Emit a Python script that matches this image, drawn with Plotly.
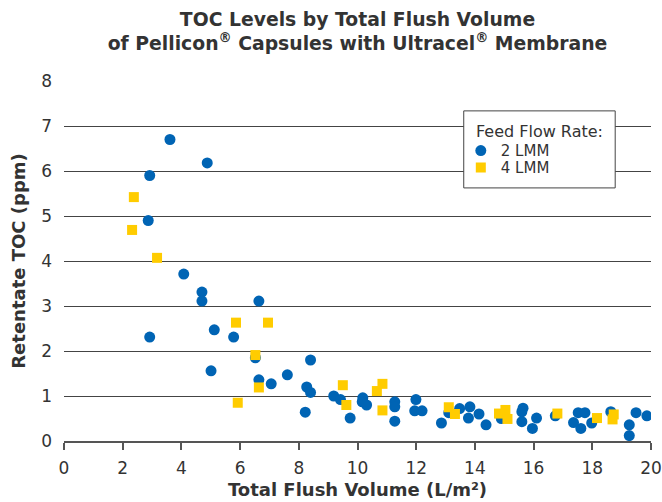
import plotly.graph_objects as go

# 2 LMM series
x_2lmm = [3.61, 4.88, 2.92, 2.87, 4.08, 4.70, 4.70, 6.64, 5.12, 2.92, 5.78, 6.52, 5.01, 6.64, 7.06,
          7.61, 8.40, 8.27, 8.40, 8.22, 9.19, 9.42, 9.75, 10.18, 10.16, 10.31, 11.27, 11.27, 11.27,
          11.99, 11.95, 12.20, 12.86, 13.11, 13.48, 13.83, 13.78, 14.14, 14.38, 14.90, 15.64, 15.60,
          15.60, 15.96, 16.10, 16.74, 17.52, 17.75, 17.36, 17.61, 17.98, 18.63, 19.26, 19.26, 19.49, 19.86]
y_2lmm = [6.70, 6.18, 5.90, 4.90, 3.71, 3.31, 3.11, 3.11, 2.47, 2.31, 2.31, 1.85, 1.56, 1.36, 1.27,
          1.47, 1.80, 1.20, 1.08, 0.64, 1.00, 0.92, 0.51, 0.96, 0.87, 0.80, 0.87, 0.76, 0.44,
          0.92, 0.67, 0.67, 0.40, 0.63, 0.72, 0.76, 0.51, 0.60, 0.36, 0.50, 0.73, 0.65,
          0.43, 0.28, 0.51, 0.56, 0.63, 0.63, 0.41, 0.28, 0.40, 0.65, 0.36, 0.12, 0.63, 0.56]

# 4 LMM series
x_4lmm = [2.38, 2.32, 3.17, 5.86, 6.95, 6.52, 6.64, 5.92, 9.50, 9.62, 10.66, 10.85, 10.85,
          13.11, 13.32, 14.82, 15.04, 15.11, 16.81, 18.16, 18.73, 18.69]
y_4lmm = [5.42, 4.69, 4.07, 2.63, 2.63, 1.91, 1.19, 0.85, 1.24, 0.80, 1.11, 1.27, 0.68,
          0.75, 0.60, 0.61, 0.69, 0.49, 0.61, 0.51, 0.59, 0.48]

x_ticks = [0, 2, 4, 6, 8, 10, 12, 14, 16, 18, 20]
y_ticks = [0, 1, 2, 3, 4, 5, 6, 7, 8]
legend_title = "Feed Flow Rate:"

FONT = "Verdana, DejaVu Sans, sans-serif"

fig = go.Figure()
fig.add_trace(go.Scatter(x=x_2lmm, y=y_2lmm, mode="markers", name="2 LMM", legend="legend",
                         marker=dict(symbol="circle", size=11, color="#0064B4")))
fig.add_trace(go.Scatter(x=x_4lmm, y=y_4lmm, mode="markers", name="4 LMM", legend="legend2",
                         marker=dict(symbol="square", size=10, color="#FFCC00")))

# legend frame (box drawn behind the legend entries)
fig.add_shape(type="rect", xref="paper", yref="paper", x0=0.681, x1=0.939, y0=0.703, y1=0.917,
              line=dict(color="#444444", width=1), fillcolor="white", layer="above")
fig.add_annotation(text=legend_title, xref="paper", yref="paper", x=0.698, y=0.861,
                   xanchor="left", yanchor="middle", showarrow=False,
                   font=dict(family=FONT, size=16, color="#333333"))

leg_common = dict(xanchor="left", yanchor="middle", bgcolor="rgba(0,0,0,0)", borderwidth=0,
                  font=dict(family=FONT, size=15, color="#333333"))

fig.update_layout(
    width=662, height=502,
    margin=dict(l=64, r=11, t=81, b=61),
    paper_bgcolor="white", plot_bgcolor="white",
    font=dict(family=FONT, color="#333333", size=15),
    title=dict(text="<b>TOC Levels by Total Flush Volume<br>of Pellicon<sup>®</sup> Capsules with Ultracel<sup>®</sup> Membrane</b>",
               x=0.5, xref="paper", xanchor="center", y=0.9492, yref="container", yanchor="top",
               automargin=False,
               font=dict(family=FONT, size=18.8, color="#333333")),
    xaxis=dict(range=[0, 20], tickvals=x_ticks, showgrid=False, zeroline=False, automargin=False,
               showline=True, linecolor="#555555", linewidth=1.5,
               ticks="outside", ticklen=7, tickcolor="#555555", tickwidth=1.5,
               ticklabelstandoff=4, ticklabeloverflow="allow",
               tickfont=dict(size=17, color="#333333"),
               title=dict(text="<b>Total Flush Volume (L/m²)</b>", font=dict(size=18, color="#333333"), standoff=6)),
    yaxis=dict(range=[0, 8], tickvals=y_ticks, showgrid=True, gridcolor="#444444", gridwidth=1,
               zeroline=False, showline=False, automargin=False,
               ticks="", ticklabelstandoff=11,
               tickfont=dict(size=17, color="#333333"),
               title=dict(text="<b>Retentate TOC (ppm)</b>", font=dict(size=18, color="#333333"), standoff=10)),
    legend=dict(x=0.676, y=0.806, **leg_common),
    legend2=dict(x=0.676, y=0.759, **leg_common),
    showlegend=True,
)

fig.write_html("out.html", config={"displayModeBar": False},
               post_script="document.body.style.margin='0';document.body.style.overflow='hidden';")
